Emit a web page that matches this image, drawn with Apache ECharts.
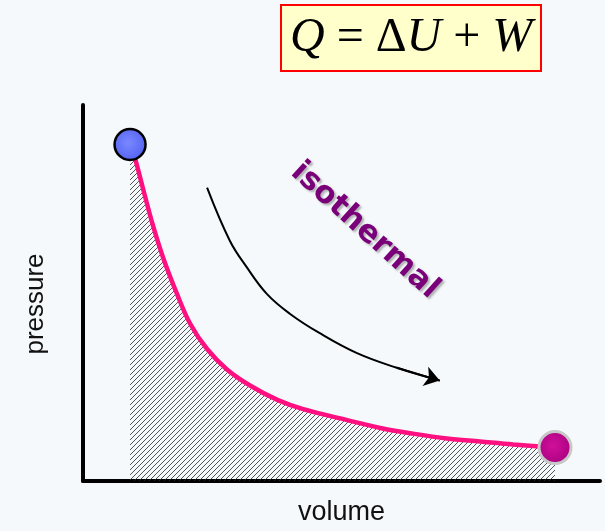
<!DOCTYPE html>
<html>
<head>
<meta charset="utf-8">
<script src="https://cdn.jsdelivr.net/npm/echarts@6/dist/echarts.min.js"></script>
<style>
html,body{margin:0;padding:0;background:#f6f9fb;}
#chart{width:605px;height:531px;}
</style>
</head>
<body>
<div id="chart"></div>
<script>
// Isotherm curve: volume / pressure (arbitrary units)
const curveVolume   = [0.91, 1.01, 1.16, 1.35, 1.55, 1.82, 2.07, 2.40, 2.79, 3.23, 3.77, 4.26, 5.11, 5.75, 6.38, 7.04, 7.68, 8.32, 9.13];
const curvePressure = [8.95, 8.56, 7.78, 6.81, 5.94, 4.97, 4.19, 3.51, 2.96, 2.54, 2.15, 1.91, 1.62, 1.41, 1.26, 1.13, 1.05, 0.97, 0.89];
// Process direction arrow path
const arrowVolume   = [2.40, 2.84, 3.17, 3.56, 4.00, 4.58, 5.30, 6.07, 6.90];
const arrowPressure = [7.80, 6.39, 5.68, 4.97, 4.45, 3.93, 3.40, 3.01, 2.67];
// State points
const startState = [0.91, 8.95];
const endState   = [9.13, 0.89];
// Label
const processLabel = 'isothermal';
const labelAt = [5.45, 6.66];
const xName = 'volume';
const yName = 'pressure';

function hatch() {
  const s = 5;
  const c = document.createElement('canvas');
  c.width = s; c.height = s;
  const g = c.getContext('2d');
  g.strokeStyle = '#2a2a2a';
  g.lineWidth = 0.8;
  g.beginPath();
  g.moveTo(0, s); g.lineTo(s, 0);
  g.moveTo(-1, 1); g.lineTo(1, -1);
  g.moveTo(s - 1, s + 1); g.lineTo(s + 1, s - 1);
  g.stroke();
  return c;
}

const n = arrowVolume.length;
const chart = echarts.init(document.getElementById('chart'), null, {renderer: 'canvas'});
chart.setOption({
  backgroundColor: '#f6f9fb',
  animation: false,
  title: {
    text: '{i|Q} = Δ{i|U} + {i|W}',
    left: 281, top: 5,
    padding: [8, 9, 8, 9],
    backgroundColor: '#ffffcc',
    borderColor: '#ff0000',
    borderWidth: 2,
    textStyle: {
      fontFamily: 'Liberation Serif', fontSize: 48, fontWeight: 'normal', color: '#000', lineHeight: 50,
      rich: { i: { fontFamily: 'Liberation Serif', fontStyle: 'italic', fontSize: 48, lineHeight: 50, color: '#000' } }
    }
  },
  grid: { left: 83, right: 5, top: 105, bottom: 44, containLabel: false },
  xAxis: {
    type: 'value', min: 0, max: 10,
    name: xName, nameLocation: 'middle', nameGap: 18,
    nameTextStyle: { fontFamily: 'Liberation Sans', fontSize: 27, color: '#111' },
    axisLine: { show: true, lineStyle: { color: '#000', width: 4 } },
    axisTick: { show: false }, axisLabel: { show: false }, splitLine: { show: false }
  },
  yAxis: {
    type: 'value', min: 0, max: 10,
    name: yName, nameLocation: 'middle', nameGap: 34,
    nameTextStyle: { fontFamily: 'Liberation Sans', fontSize: 26, color: '#111', padding: [0, 22, 0, 0] },
    axisLine: { show: true, lineStyle: { color: '#000', width: 4 } },
    axisTick: { show: false }, axisLabel: { show: false }, splitLine: { show: false }
  },
  series: [
    {
      type: 'line',
      data: curveVolume.map((v, i) => [v, curvePressure[i]]),
      smooth: 0.35,
      symbol: 'none',
      lineStyle: { color: '#ff1080', width: 4.5 },
      areaStyle: { color: { image: hatch(), repeat: 'repeat' }, opacity: 1 },
      z: 2
    },
    {
      type: 'line',
      data: arrowVolume.map((v, i) => [v, arrowPressure[i]]),
      smooth: 0.4,
      symbol: 'none',
      lineStyle: { color: '#000', width: 2 },
      z: 3
    },
    {
      type: 'lines',
      coordinateSystem: 'cartesian2d',
      symbol: ['none', 'arrow'],
      symbolSize: 15,
      lineStyle: { color: '#000', width: 2, opacity: 1 },
      data: [{ coords: [[arrowVolume[n - 2], arrowPressure[n - 2]], [arrowVolume[n - 1], arrowPressure[n - 1]]] }],
      z: 3
    },
    {
      type: 'scatter',
      data: [startState],
      symbolSize: 31,
      itemStyle: {
        color: { type: 'radial', x: 0.45, y: 0.45, r: 0.6, colorStops: [{offset: 0, color: '#7a88ff'}, {offset: 1, color: '#5060f0'}] },
        borderColor: '#000', borderWidth: 2.5, opacity: 1
      },
      z: 5
    },
    {
      type: 'scatter',
      data: [endState],
      symbolSize: 32,
      itemStyle: {
        color: { type: 'radial', x: 0.45, y: 0.45, r: 0.6, colorStops: [{offset: 0, color: '#d0109a'}, {offset: 1, color: '#a8007e'}] },
        borderColor: '#c8c8c8', borderWidth: 3, opacity: 1
      },
      z: 5
    },
    {
      type: 'scatter',
      data: [labelAt],
      symbolSize: 0,
      silent: true,
      itemStyle: { opacity: 1 },
      label: {
        show: true, position: 'inside', formatter: processLabel, rotate: -42, opacity: 1,
        fontFamily: 'DejaVu Sans', fontWeight: 'bold', fontSize: 31, color: '#7a007a',
        textBorderWidth: 0,
        textShadowColor: 'rgba(0,0,0,0.28)', textShadowBlur: 2, textShadowOffsetX: 2, textShadowOffsetY: 2
      },
      z: 6
    }
  ]
});
</script>
</body>
</html>
